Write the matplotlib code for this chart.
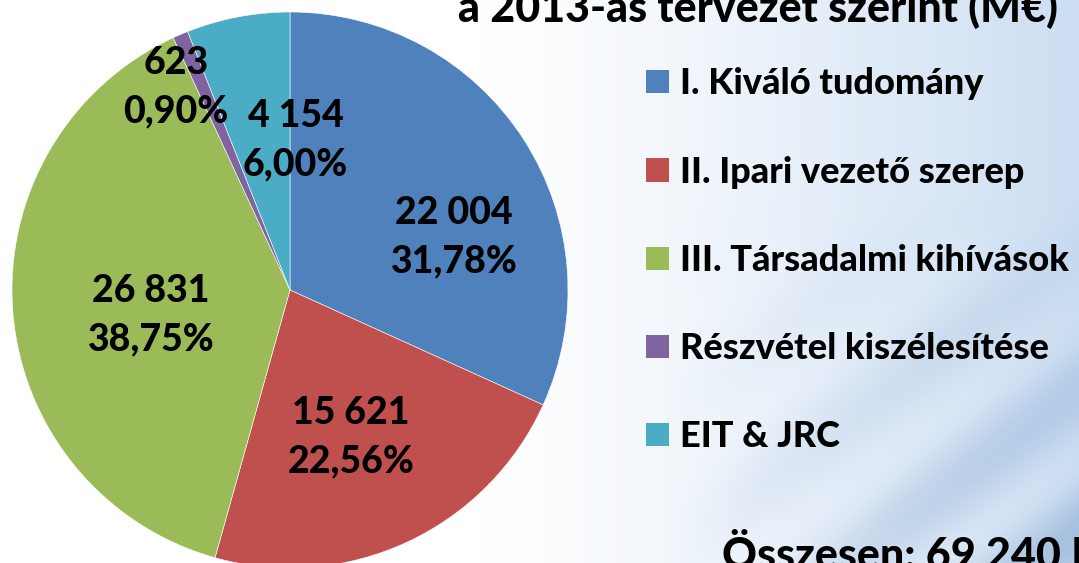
import numpy as np
import matplotlib.pyplot as plt
from matplotlib.patches import Patch

# =========================
# DATA
# =========================
categories = [
    "I. Kiváló tudomány",
    "II. Ipari vezető szerep",
    "III. Társadalmi kihívások",
    "Részvétel kiszélesítése",
    "EIT & JRC",
]
values = [22004, 15621, 26831, 623, 4154]
value_labels = ["22 004", "15 621", "26 831", "623", "4 154"]
pct_labels = ["31,78%", "22,56%", "38,75%", "0,90%", "6,00%"]
colors = ["#4F81BD", "#C0504D", "#9BBB59", "#8064A2", "#4BACC6"]

title_text = "a 2013-as tervezet szerint (M€)"
total_text = "Összesen: 69 240 M€"

# label positions inside the pie (axes data units, radius = 1)
label_pos = [(0.59, 0.19), (0.22, -0.53), (-0.50, -0.09), (-0.41, 0.73), (0.02, 0.54)]

plt.rcParams["font.family"] = ["Lato", "DejaVu Sans"]
WEIGHT = 900

W, H = 1079, 563
fig = plt.figure(figsize=(W / 100, H / 100), dpi=100)

# =========================
# BACKGROUND
# =========================
bg = fig.add_axes([0, 0, 1, 1])
xx, yy = np.meshgrid(np.linspace(0, 1, 400), np.linspace(0, 1, 220))
t = np.clip((xx - 0.45) / 0.55, 0, 1) ** 1.2
streak = np.clip(np.sin((xx * 1.6 + yy * 1.1) * 22) * 0.5 + 0.5, 0, 1)
mask = np.clip((xx - 0.62) * 2.5, 0, 1) * np.clip((yy - 0.35) * 1.8, 0, 1)
white = np.array([1.0, 1.0, 1.0])
blue = np.array([0.80, 0.87, 0.95])
dark = np.array([0.45, 0.60, 0.78])
img = white * (1 - t[..., None]) + blue * t[..., None]
img = img * (1 - 0.45 * (mask * streak)[..., None]) + dark * (0.45 * (mask * streak)[..., None])
bg.imshow(img, aspect="auto", extent=[0, 1, 0, 1], origin="upper")
bg.set_xlim(0, 1)
bg.set_ylim(0, 1)
bg.axis("off")

# =========================
# PIE
# =========================
cx, cy, r = 290, 273, 278
ax = fig.add_axes([(cx - r) / W, (cy - r) / H, 2 * r / W, 2 * r / H])
ax.pie(values, colors=colors, startangle=90, counterclock=False, radius=1,
       wedgeprops=dict(edgecolor="white", linewidth=0.4))
ax.set_xlim(-1, 1)
ax.set_ylim(-1, 1)
ax.set_aspect("equal")
ax.axis("off")

for (x, y), v, p in zip(label_pos, value_labels, pct_labels):
    ax.text(x, y, f"{v}\n{p}", ha="center", va="center", fontsize=27,
            fontweight=WEIGHT, linespacing=1.52, color="black")

# =========================
# LEGEND
# =========================
handles = [Patch(facecolor=c, edgecolor="none") for c in colors]
fig.legend(handles, categories, loc="upper left", bbox_to_anchor=(632 / W, 1 - 53 / H),
           frameon=False, labelspacing=1.53, handlelength=0.62,
           handleheight=0.62, handletextpad=0.3, borderaxespad=0,
           prop=dict(weight=WEIGHT, size=26))

# =========================
# TEXTS
# =========================
fig.text(458 / W, 1 - 8 / H, title_text, ha="left", va="center", fontsize=31, fontweight=WEIGHT)
fig.text(722 / W, -6 / H, total_text, ha="left", va="baseline", fontsize=31, fontweight=WEIGHT)

fig.savefig("out.png", dpi=100)
